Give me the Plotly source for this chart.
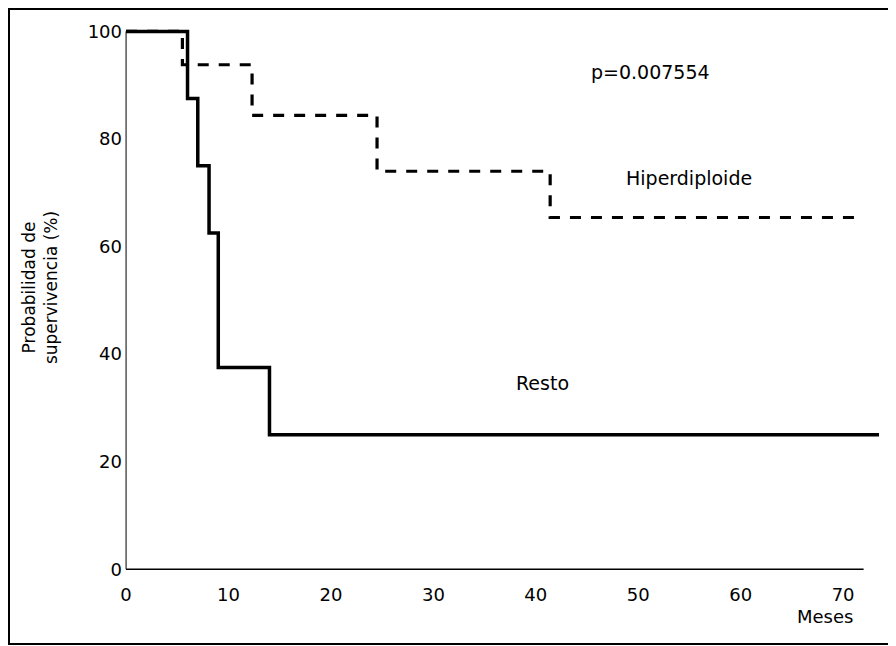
import plotly.graph_objects as go

# Data (Kaplan-Meier step curves)
resto_x = [0, 6, 7, 8.1, 9, 14, 73.5]
resto_y = [100, 87.5, 75, 62.5, 37.5, 25, 25]

hiper_x = [0, 5.5, 12.3, 24.5, 41.4, 72]
hiper_y = [100, 93.8, 84.4, 74.0, 65.4, 65.4]

x_ticks = [0, 10, 20, 30, 40, 50, 60, 70]
y_ticks = [0, 20, 40, 60, 80, 100]

FONT = "DejaVu Sans, Liberation Sans, Arial, sans-serif"

fig = go.Figure()
fig.add_trace(go.Scatter(x=hiper_x, y=hiper_y, mode="lines", line_shape="hv",
                         line=dict(color="black", width=3.2, dash="11px,10px"),
                         name="Hiperdiploide", showlegend=False, hoverinfo="skip"))
fig.add_trace(go.Scatter(x=resto_x, y=resto_y, mode="lines", line_shape="hv",
                         line=dict(color="black", width=3.5),
                         name="Resto", showlegend=False, hoverinfo="skip"))

fig.update_layout(
    width=888, height=638,
    margin=dict(l=115, r=16, t=18, b=74),
    paper_bgcolor="white", plot_bgcolor="white",
    font=dict(family=FONT, color="black", size=18),
    xaxis=dict(range=[-0.3, 73.6], tickvals=x_ticks, ticktext=[str(v) for v in x_ticks],
               showgrid=False, zeroline=False, showline=False,
               ticks="outside", ticklen=6, tickcolor="rgba(0,0,0,0)",
               tickfont=dict(size=18, family=FONT)),
    yaxis=dict(range=[-0.5, 101], tickvals=y_ticks, ticktext=[str(v) for v in y_ticks],
               showgrid=False, zeroline=False, showline=False,
               ticks="", tickfont=dict(size=18, family=FONT)),
    shapes=[
        # x axis line
        dict(type="line", xref="x", yref="y", x0=0, x1=72, y0=0, y1=0,
             line=dict(color="black", width=1.5)),
        # y axis line
        dict(type="line", xref="x", yref="y", x0=0, x1=0, y0=0, y1=100,
             line=dict(color="black", width=1)),
        # outer border
        dict(type="rect", xref="paper", yref="paper",
             x0=-0.1506, x1=1.0172, y0=-0.1319, y1=1.0311,
             line=dict(color="black", width=2)),
    ],
    annotations=[
        dict(text="p=0.007554", x=51.2, y=92.4, xref="x", yref="y",
             xanchor="center", yanchor="middle",
             showarrow=False, font=dict(size=19, family=FONT)),
        dict(text="Hiperdiploide", x=55.0, y=72.7, xref="x", yref="y",
             xanchor="center", yanchor="middle",
             showarrow=False, font=dict(size=19, family=FONT)),
        dict(text="Resto", x=40.7, y=34.6, xref="x", yref="y",
             xanchor="center", yanchor="middle",
             showarrow=False, font=dict(size=19, family=FONT)),
        dict(text="Meses", x=68.2, y=-0.0824, xref="x", yref="paper",
             xanchor="center", yanchor="middle",
             showarrow=False, font=dict(size=18, family=FONT)),
        dict(text="Probabilidad de<br>supervivencia (%)", x=-0.1096, y=0.52,
             xref="paper", yref="paper", textangle=-90, showarrow=False,
             xanchor="center", yanchor="middle",
             font=dict(size=17, family=FONT)),
    ],
)

fig.write_html("out.html")
